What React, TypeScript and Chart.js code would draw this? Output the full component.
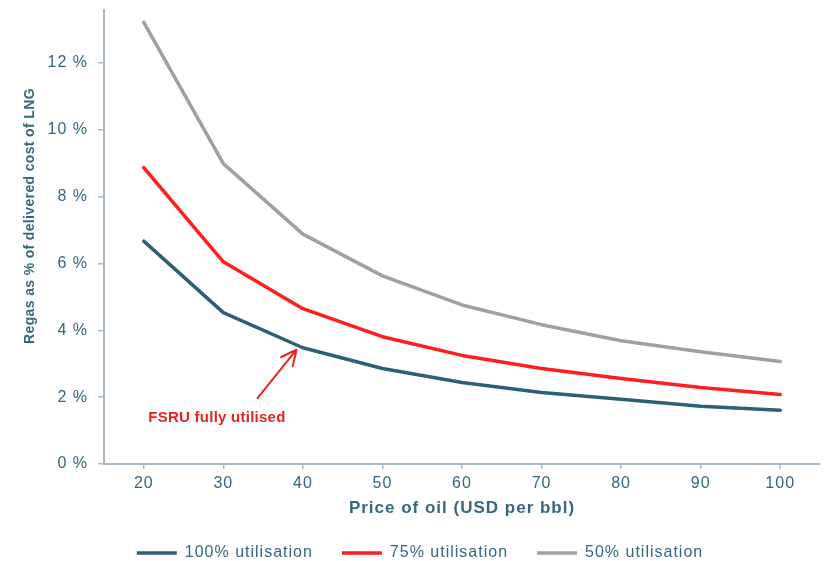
import React, { useEffect, useRef } from "react";
import { Chart, registerables } from "chart.js";

Chart.register(...registerables);

const oilPrices = ["20", "30", "40", "50", "60", "70", "80", "90", "100"];
const util100 = [6.67, 4.53, 3.48, 2.86, 2.44, 2.14, 1.94, 1.73, 1.61];
const util75 = [8.87, 6.05, 4.65, 3.81, 3.25, 2.86, 2.56, 2.29, 2.08];
const util50 = [13.22, 8.99, 6.88, 5.63, 4.76, 4.17, 3.69, 3.36, 3.07];
const seriesNames = ["100% utilisation", "75% utilisation", "50% utilisation"];
const seriesColors = ["#2C6075", "#FF1E1E", "#A0A0A0"];

// annotation anchor in data space: [category index, percent]
const arrowTip = [1.92, 3.42];
const arrowTail = [1.43, 1.97];
const noteAnchor = [0.92, 1.37];
const noteText = "FSRU fully utilised";
const yTitle = "Regas as % of delivered cost of LNG";
const xTitle = "Price of oil (USD per bbl)";

const AXIS = "#A9B8C3";
const TEXT = "#35677C";
const FONT = "'Liberation Sans', Arial, sans-serif";

export default function App() {
  const ref = useRef<HTMLCanvasElement>(null);
  useEffect(() => {
    document.body.style.margin = "0";
    const decor = {
      id: "decor",
      beforeLayout(chart: any) {
        chart.ctx.letterSpacing = "1px";
      },
      afterLayout(chart: any) {
        if (chart.legend) chart.legend.left += 20;
      },
      beforeDraw(chart: any) {
        chart.ctx.letterSpacing = "1px";
      },
      afterDraw(chart: any) {
        const { ctx } = chart;
        const x = chart.scales.x;
        const y = chart.scales.y;
        ctx.save();
        // y title
        ctx.save();
        ctx.letterSpacing = "0.35px";
        ctx.translate(30, 226);
        ctx.rotate(-Math.PI / 2);
        ctx.font = `bold 14px ${FONT}`;
        ctx.fillStyle = TEXT;
        ctx.textAlign = "center";
        ctx.textBaseline = "middle";
        ctx.fillText(yTitle, 0, 0);
        ctx.restore();
        // arrow
        const tx = x.getPixelForValue(arrowTip[0]);
        const ty = y.getPixelForValue(arrowTip[1]);
        const sx = x.getPixelForValue(arrowTail[0]);
        const sy = y.getPixelForValue(arrowTail[1]);
        ctx.strokeStyle = "#E8231D";
        ctx.lineWidth = 2;
        ctx.lineCap = "round";
        ctx.beginPath();
        ctx.moveTo(sx, sy);
        ctx.lineTo(tx, ty);
        const ang = Math.atan2(ty - sy, tx - sx);
        const len = 17;
        for (const d of [0.45, -0.45]) {
          ctx.moveTo(tx, ty);
          ctx.lineTo(tx - len * Math.cos(ang + d), ty - len * Math.sin(ang + d));
        }
        ctx.stroke();
        ctx.letterSpacing = "0.25px";
        ctx.font = `bold 15px ${FONT}`;
        ctx.fillStyle = "#E8231D";
        ctx.textAlign = "center";
        ctx.textBaseline = "middle";
        ctx.fillText(noteText, x.getPixelForValue(noteAnchor[0]), y.getPixelForValue(noteAnchor[1]));
        ctx.restore();
      },
    };
    const data = [util100, util75, util50];
    const chart = new Chart(ref.current!, {
      type: "line",
      data: {
        labels: oilPrices,
        datasets: data.map((d, i) => ({
          label: seriesNames[i],
          data: d,
          borderColor: seriesColors[i],
          backgroundColor: seriesColors[i],
          borderWidth: 3.5,
          pointRadius: 0,
          tension: 0,
          borderCapStyle: "round",
          borderJoinStyle: "round",
        })),
      },
      options: {
        animation: false,
        responsive: false,
        layout: { padding: { top: 7, right: 4, left: 0, bottom: 0 } },
        plugins: {
          tooltip: { enabled: false },
          legend: {
            position: "bottom",
            labels: {
              usePointStyle: true,
              pointStyle: "line",
              pointStyleWidth: 40,
              padding: 29,
              color: TEXT,
              font: { family: FONT, size: 16 },
            },
          },
        },
        scales: {
          x: {
            type: "category",
            offset: true,
            grid: { display: true, drawOnChartArea: false, drawTicks: true, tickLength: 5, color: AXIS, lineWidth: 1.5 },
            border: { display: true, color: AXIS, width: 2 },
            ticks: { color: TEXT, padding: 5, font: { family: FONT, size: 16 } },
            title: {
              display: true,
              text: xTitle,
              color: TEXT,
              font: { family: FONT, size: 17, weight: "bold" },
              padding: { top: 4, bottom: -3 },
            },
            afterFit(scale: any) {
              scale.height = 52;
            },
          },
          y: {
            min: 0,
            max: 13.6,
            grid: { display: true, drawOnChartArea: false, drawTicks: true, tickLength: 6, color: AXIS, lineWidth: 1.5 },
            border: { display: true, color: AXIS, width: 2 },
            ticks: {
              stepSize: 2,
              color: TEXT,
              padding: 10,
              font: { family: FONT, size: 16 },
              callback: (v: any) => `${v} %`,
            },
            afterBuildTicks(scale: any) {
              scale.ticks = scale.ticks.filter((t: any) => t.value % 2 === 0);
            },
            afterFit(scale: any) {
              scale.width = 104;
            },
          },
        },
      },
      plugins: [decor],
    } as any);
    return () => chart.destroy();
  }, []);
  return (
    <div style={{ position: "fixed", left: 0, top: 0, width: 824, height: 561, overflow: "hidden", background: "#fff" }}>
      <canvas ref={ref} width={824} height={581} style={{ display: "block", marginTop: -10 }} />
    </div>
  );
}
